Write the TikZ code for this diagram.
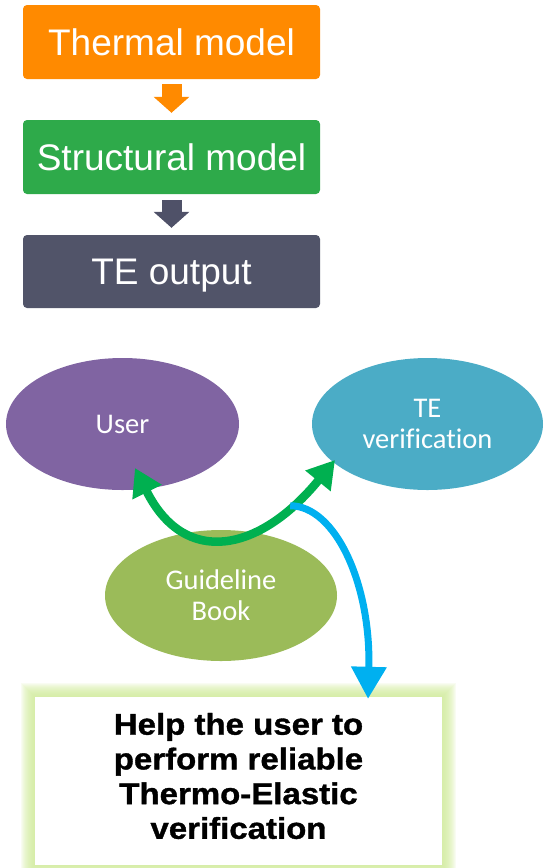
\documentclass[tikz,border=0pt]{standalone}
\usepackage{fontspec}
\setmainfont{Liberation Sans}
\newfontfamily\calfont[Ligatures=NoCommon]{Carlito}
\newfontfamily\helpfont[FakeStretch=1.1, BoldFeatures={FakeBold=1.2}]{Liberation Sans}
\usetikzlibrary{shapes.geometric,arrows.meta,calc,backgrounds}
\definecolor{thermorange}{RGB}{255,138,0}
\definecolor{structgreen}{RGB}{46,170,74}
\definecolor{outslate}{RGB}{81,84,105}
\definecolor{arrowslate}{RGB}{79,81,104}
\definecolor{userpurple}{RGB}{128,100,162}
\definecolor{verteal}{RGB}{75,172,198}
\definecolor{bookolive}{RGB}{155,187,89}
\definecolor{linkgreen}{RGB}{0,176,80}
\definecolor{linkblue}{RGB}{0,176,240}
\definecolor{glowgreen}{RGB}{207,234,152}

\begin{document}
\begin{tikzpicture}[x=1pt,y=-1pt,
  stage/.style={rectangle, rounded corners=4pt, minimum width=297pt,
    minimum height=74pt, inner sep=0pt, text=white,
    font=\fontsize{37}{44}\selectfont, text height=26.5pt, text depth=0pt},
  bubble/.style={ellipse, inner sep=0pt, text=white, align=center,
    font=\calfont\fontsize{28.5}{31}\selectfont},
  blockarrow/.style={line width=20pt, -{Triangle[width=35pt,length=16pt]}},
  linkarrow/.style={line width=8.5pt, linkgreen,
    {Triangle[width=31pt,length=27pt]}-{Triangle[width=31pt,length=27pt]}},
  downarrow/.style={line width=7pt, linkblue, -{Triangle[width=34pt,length=32pt]}}
]
\useasboundingbox (0,0) rectangle (545,868);

% process chain
\node[stage, fill=thermorange] (thermal) at (171.5,42) {Thermal model};
\node[stage, fill=structgreen] (structural) at (171.5,157) {Structural model};
\node[stage, fill=outslate, minimum height=73pt] (teout) at (171.5,271.5) {TE output};

\draw[blockarrow, thermorange, shorten <=5pt, shorten >=7pt] (thermal.south) -- (structural.north);
\draw[blockarrow, arrowslate, shorten <=6pt, shorten >=7pt] (structural.south) -- (teout.north);

% actors
\node[bubble, fill=userpurple, minimum width=233pt, minimum height=132pt] (user) at (122.5,424) {User};
\node[bubble, fill=verteal, minimum width=231pt, minimum height=132pt] (tev) at (427.5,424) {TE\\verification};
\node[bubble, fill=bookolive, minimum width=232pt, minimum height=131pt] (guide) at (221,595.5) {Guideline\\Book};

% goal box with a soft glow
\node[rectangle, fill=white, minimum width=407pt, minimum height=168pt, inner sep=0pt] (help) at (238.5,781) {};
\node[text=black, align=center, font=\helpfont\bfseries\fontsize{30}{34.7}\selectfont]
  (helptext) at ($(help.center)+(0,-5)$) {Help the user to\\perform reliable\\Thermo-Elastic\\verification};
\begin{scope}[on background layer]
  \foreach \i in {1,...,14}
    \fill[glowgreen, opacity=0.12] ($(help.south west)+(-\i,\i)$) rectangle ($(help.north east)+(\i,-\i)$);
\end{scope}

% links
\coordinate (ul) at ($(user.center)+(12.5,44)$);
\coordinate (tr) at ($(tev.center)+(-92.5,36)$);
\draw[linkarrow] (ul) .. controls +(50,100) and +(-75,92) .. coordinate[pos=0.8] (bs) (tr);

\coordinate (bt) at ($(help.north west)!0.818!(help.north east)+(0,2)$);
\draw[downarrow] (bs) .. controls +(45,0) and +(3,-115) .. (bt);
\end{tikzpicture}
\end{document}
